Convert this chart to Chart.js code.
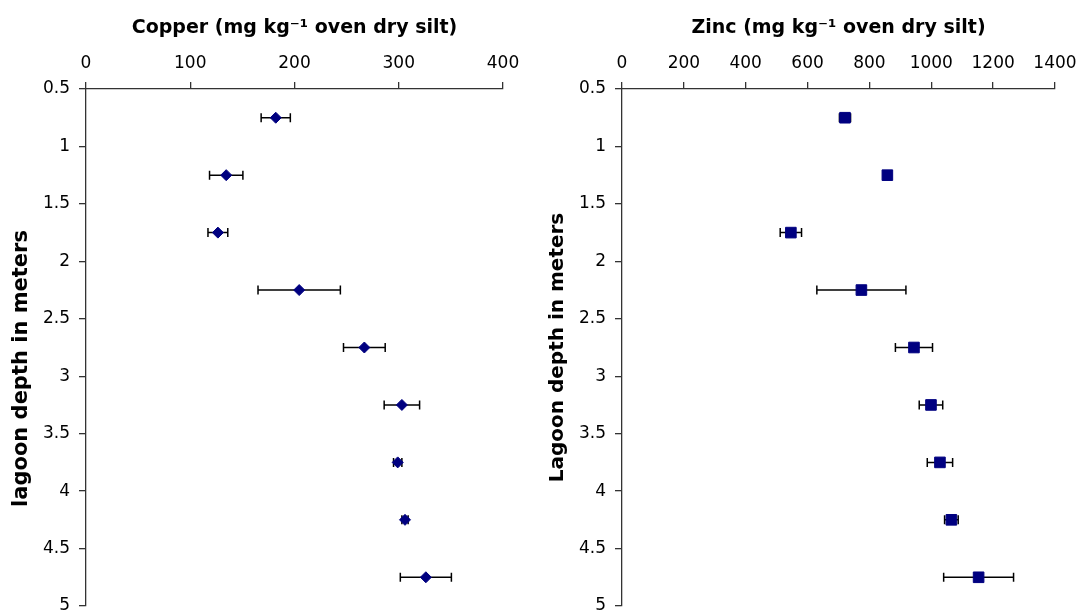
<!DOCTYPE html>
<html>
<head>
<meta charset="utf-8">
<title>Copper and zinc in lagoon silt</title>
<script src="https://cdn.jsdelivr.net/npm/chart.js@4.4.1/dist/chart.umd.min.js"></script>
<style>
  body { margin: 0; background: #fff; }
  .wrap { position: relative; width: 1082px; height: 615px; }
  .wrap canvas { position: absolute; top: 0; }
  #copperChart { left: 0; }
  #zincChart { left: 541px; }
</style>
</head>
<body>
<div class="wrap">
  <canvas id="copperChart" width="541" height="615"></canvas>
  <canvas id="zincChart" width="541" height="615"></canvas>
</div>
<script>
// Sampling depths (m), same for both metals
const depths = [0.75, 1.25, 1.75, 2.25, 2.75, 3.25, 3.75, 4.25, 4.75];
const depthTicks = [0.5, 1, 1.5, 2, 2.5, 3, 3.5, 4, 4.5, 5];

// Copper, mg/kg oven dry silt: mean and +/- error
const copperMean = [182, 134.5, 126.5, 204.5, 267, 303, 299, 306, 326];
const copperErr = [14, 16, 9.5, 39.5, 20, 17, 4, 3, 24.5];
const copperTicks = [0, 100, 200, 300, 400];

// Zinc, mg/kg oven dry silt: mean and +/- error
const zincMean = [721, 858, 546, 774, 944, 999, 1028, 1065, 1153];
const zincErr = [18, 8, 34.5, 144, 60, 38, 41, 22, 113];
const zincTicks = [0, 200, 400, 600, 800, 1000, 1200, 1400];

const navy = '#000080';
const axisColor = '#333';
const tickFont = { family: 'DejaVu Sans', size: 17 };

// Horizontal error bars with end caps, drawn under the markers
const errorBars = {
  id: 'errorBars',
  beforeDatasetsDraw(chart) {
    const { ctx, scales: { x, y } } = chart;
    const ds = chart.data.datasets[0];
    const cap = 4.5;
    ctx.save();
    ctx.strokeStyle = '#000';
    ctx.lineWidth = 1.5;
    ds.data.forEach((p, i) => {
      const e = ds.errors[i];
      const x0 = x.getPixelForValue(p.x - e);
      const x1 = x.getPixelForValue(p.x + e);
      const py = y.getPixelForValue(p.y);
      ctx.beginPath();
      ctx.moveTo(x0, py);
      ctx.lineTo(x1, py);
      ctx.moveTo(x0, py - cap);
      ctx.lineTo(x0, py + cap);
      ctx.moveTo(x1, py - cap);
      ctx.lineTo(x1, py + cap);
      ctx.stroke();
    });
    ctx.restore();
  }
};

// keep the plot area fixed: no extra room for label overhang
function noOverhang(s) {
  s.paddingTop = 0;
  s.paddingBottom = 0;
  s.paddingLeft = 0;
  s.paddingRight = 0;
}

function makeDepthChart(id, cfg) {
  const ctx = document.getElementById(id).getContext('2d');
  return new Chart(ctx, {
    type: 'scatter',
    data: {
      datasets: [{
        data: depths.map((d, i) => ({ x: cfg.mean[i], y: d })),
        errors: cfg.err,
        pointStyle: cfg.marker,
        pointRadius: cfg.radius,
        backgroundColor: navy,
        borderColor: navy,
        borderWidth: 1
      }]
    },
    options: {
      responsive: false,
      animation: false,
      events: [],
      layout: { padding: { left: 0, top: 0, right: cfg.padRight, bottom: 9 } },
      plugins: { legend: { display: false }, tooltip: { enabled: false } },
      scales: {
        x: {
          type: 'linear',
          position: 'top',
          min: 0,
          max: cfg.ticks[cfg.ticks.length - 1],
          afterBuildTicks: s => { s.ticks = cfg.ticks.map(v => ({ value: v })); },
          afterFit: s => { s.height = 89; noOverhang(s); },
          grid: { drawOnChartArea: false, tickLength: 7, color: axisColor, lineWidth: 1.3 },
          border: { color: axisColor, width: 1.3 },
          ticks: { color: '#000', font: tickFont, padding: 8, maxRotation: 0, callback: v => String(v) },
          title: {
            display: true,
            text: cfg.xTitle,
            color: '#000',
            font: { family: 'DejaVu Sans', size: 19, weight: 'bold' },
            padding: { top: 17, bottom: 0 }
          }
        },
        y: {
          type: 'linear',
          position: 'left',
          reverse: true,
          min: 0.5,
          max: 5,
          afterBuildTicks: s => { s.ticks = depthTicks.map(v => ({ value: v })); },
          afterFit: s => { s.width = cfg.yWidth; noOverhang(s); },
          grid: { drawOnChartArea: false, tickLength: 7, color: axisColor, lineWidth: 1.3 },
          border: { color: axisColor, width: 1.3 },
          ticks: { color: '#000', font: tickFont, padding: 9, callback: v => String(v) },
          title: {
            display: true,
            text: cfg.yTitle,
            color: '#000',
            font: { family: 'DejaVu Sans', size: cfg.yTitleSize, weight: 'bold' },
            padding: { top: cfg.yTitlePad, bottom: 0 }
          }
        }
      }
    },
    plugins: [errorBars]
  });
}

makeDepthChart('copperChart', {
  mean: copperMean,
  err: copperErr,
  ticks: copperTicks,
  marker: 'rectRot',
  radius: 5.5,
  xTitle: 'Copper (mg kg\u207B\u00B9 oven dry silt)',
  // trailing em spaces push the label a little further down the axis
  yTitle: 'lagoon depth in meters\u2003\u2003',
  yTitleSize: 21,
  yTitlePad: 9,
  yWidth: 86,
  padRight: 38
});

makeDepthChart('zincChart', {
  mean: zincMean,
  err: zincErr,
  ticks: zincTicks,
  marker: 'rect',
  radius: 7.5,
  xTitle: 'Zinc (mg kg\u207B\u00B9 oven dry silt)',
  yTitle: 'Lagoon depth in meters',
  yTitleSize: 20,
  yTitlePad: 5,
  yWidth: 81,
  padRight: 27
});
</script>
</body>
</html>
